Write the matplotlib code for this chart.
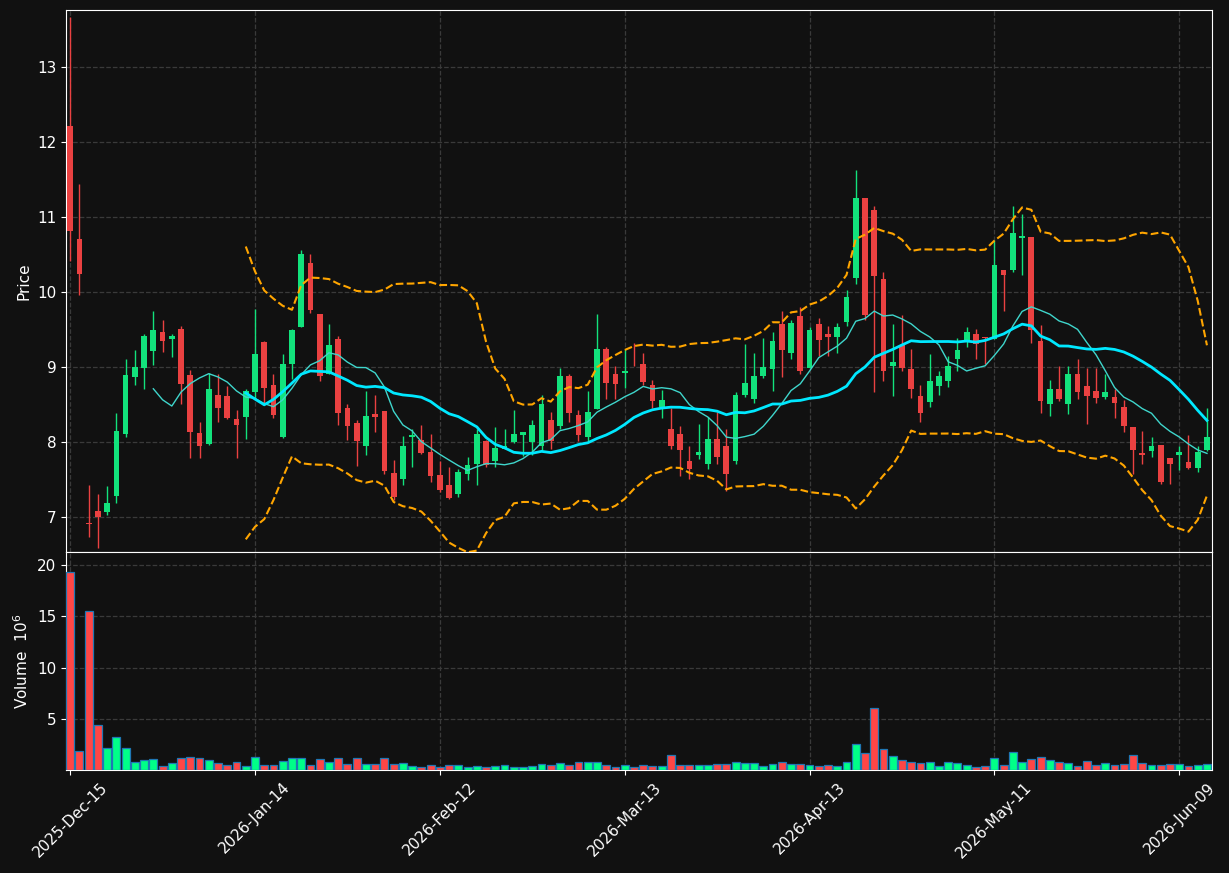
import numpy as np
import pandas as pd
import matplotlib
matplotlib.use('Agg')
import matplotlib.pyplot as plt

# OHLC values (one per trading day)
opens = [12.21, 10.71, 6.915, 7.08, 7.07, 7.28, 8.11, 8.87, 8.99, 9.21,
         9.46, 9.37, 9.51, 8.89, 8.12, 7.97, 8.63, 8.61, 8.30, 8.33,
         8.67, 9.33, 8.76, 8.06, 9.04, 9.53, 10.39, 9.71, 8.91, 9.37,
         8.45, 8.25, 7.94, 8.37, 8.41, 7.58, 7.50, 8.06, 8.03, 7.87,
         7.56, 7.42, 7.30, 7.57, 7.70, 8.01, 7.75, 7.90, 8.00, 8.09,
         8.00, 7.94, 8.29, 8.21, 8.88, 8.36, 8.06, 8.44, 9.24, 8.91,
         8.92, 9.11, 9.04, 8.76, 8.46, 8.17, 8.10, 7.74, 7.82, 7.71,
         8.04, 7.95, 7.74, 8.63, 8.57, 8.88, 8.97, 9.58, 9.19, 9.68,
         8.98, 9.57, 9.44, 9.40, 9.60, 10.19, 11.26, 11.09, 10.18, 9.01,
         9.29, 8.97, 8.61, 8.53, 8.74, 8.81, 9.11, 9.35, 9.44, 9.40,
         9.37, 10.29, 10.29, 10.72, 10.73, 9.35, 8.51, 8.71, 8.51, 8.91,
         8.75, 8.68, 8.60, 8.60, 8.47, 8.20, 7.85, 7.88, 7.96, 7.78,
         7.82, 7.73, 7.65, 7.89]
highs = [13.67, 11.44, 7.42, 7.30, 7.41, 8.39, 9.11, 9.23, 9.44, 9.75,
         9.63, 9.44, 9.55, 8.96, 8.26, 8.92, 8.91, 8.75, 8.42, 8.71,
         9.78, 9.34, 8.91, 9.17, 9.51, 10.56, 10.51, 9.71, 9.57, 9.41,
         8.50, 8.29, 8.68, 8.62, 8.41, 7.76, 8.08, 8.17, 8.22, 8.10,
         7.74, 7.67, 7.64, 7.80, 8.17, 8.02, 8.20, 8.17, 8.43, 8.13,
         8.29, 8.63, 8.40, 8.98, 8.90, 8.43, 8.68, 9.71, 9.26, 9.01,
         9.24, 9.32, 9.19, 8.83, 8.69, 8.45, 8.21, 7.95, 8.24, 8.33,
         8.40, 8.17, 8.67, 9.31, 9.19, 9.38, 9.47, 9.75, 9.63, 9.80,
         9.54, 9.65, 9.55, 9.59, 10.03, 11.63, 11.26, 11.15, 10.27, 9.58,
         9.69, 9.24, 8.76, 9.17, 8.95, 9.14, 9.39, 9.54, 9.51, 9.40,
         10.69, 10.29, 11.15, 11.04, 10.73, 9.56, 8.82, 9.01, 9.01, 9.10,
         8.99, 8.99, 8.90, 8.70, 8.56, 8.20, 8.14, 8.06, 7.96, 7.78,
         7.95, 8.09, 7.95, 8.45]
lows = [10.41, 9.96, 6.73, 6.58, 7.02, 7.19, 8.07, 8.76, 8.71, 9.02,
        9.20, 9.13, 8.51, 7.78, 7.78, 7.96, 8.26, 8.31, 7.79, 8.04,
        8.57, 8.52, 8.32, 8.05, 8.84, 9.53, 9.72, 8.81, 8.91, 8.22,
        8.03, 7.68, 7.82, 8.13, 7.57, 7.22, 7.43, 7.66, 7.84, 7.47,
        7.33, 7.24, 7.26, 7.49, 7.43, 7.67, 7.66, 7.90, 7.99, 7.81,
        7.82, 7.88, 7.91, 8.17, 8.26, 8.01, 8.01, 8.44, 8.57, 8.57,
        8.72, 9.01, 8.76, 8.45, 8.32, 7.91, 7.55, 7.50, 7.77, 7.64,
        7.71, 7.35, 7.70, 8.60, 8.52, 8.85, 8.68, 8.86, 9.10, 8.90,
        8.98, 9.14, 9.14, 9.18, 9.55, 10.11, 9.63, 8.66, 8.81, 8.61,
        8.94, 8.59, 8.26, 8.47, 8.63, 8.73, 8.95, 9.26, 9.11, 9.04,
        9.37, 9.75, 10.27, 10.23, 9.32, 8.39, 8.34, 8.54, 8.37, 8.57,
        8.24, 8.52, 8.57, 8.32, 8.13, 7.57, 7.70, 7.80, 7.44, 7.44,
        7.63, 7.64, 7.60, 7.88]
closes = [10.82, 10.24, 6.905, 7.00, 7.19, 8.14, 8.89, 9.00, 9.41, 9.50,
          9.35, 9.41, 8.77, 8.13, 7.94, 8.71, 8.45, 8.32, 8.23, 8.68,
          9.17, 8.72, 8.36, 9.04, 9.49, 10.51, 9.76, 8.88, 9.29, 8.39,
          8.21, 8.01, 8.34, 8.33, 7.61, 7.27, 7.94, 8.09, 7.85, 7.55,
          7.36, 7.25, 7.60, 7.69, 8.10, 7.69, 7.92, 7.95, 8.10, 8.13,
          8.22, 8.51, 8.01, 8.88, 8.39, 8.09, 8.40, 9.24, 8.79, 8.77,
          8.95, 9.10, 8.80, 8.54, 8.56, 7.94, 7.89, 7.64, 7.87, 8.04,
          7.80, 7.57, 8.63, 8.78, 8.88, 9.00, 9.34, 9.23, 9.59, 8.94,
          9.50, 9.36, 9.40, 9.54, 9.94, 11.26, 9.70, 10.22, 8.94, 9.07,
          8.98, 8.70, 8.39, 8.81, 8.88, 9.01, 9.22, 9.47, 9.31, 9.39,
          10.36, 10.23, 10.79, 10.75, 9.49, 8.54, 8.71, 8.57, 8.91, 8.67,
          8.61, 8.59, 8.66, 8.52, 8.21, 7.89, 7.82, 7.95, 7.46, 7.71,
          7.86, 7.65, 7.87, 8.06]
volumes = [19.35, 1.90, 15.52, 4.44, 2.16, 3.24, 2.16, 0.78, 0.98, 1.11,
           0.39, 0.72, 1.18, 1.31, 1.18, 0.98, 0.72, 0.52, 0.82, 0.39,
           1.31, 0.52, 0.52, 0.92, 1.18, 1.18, 0.52, 1.11, 0.82, 1.18,
           0.62, 1.18, 0.62, 0.62, 1.18, 0.62, 0.72, 0.39, 0.29, 0.52,
           0.33, 0.52, 0.52, 0.29, 0.39, 0.33, 0.42, 0.52, 0.29, 0.29,
           0.42, 0.62, 0.52, 0.72, 0.52, 0.82, 0.82, 0.82, 0.52, 0.33,
           0.52, 0.33, 0.52, 0.39, 0.39, 1.50, 0.52, 0.52, 0.52, 0.52,
           0.62, 0.62, 0.82, 0.72, 0.72, 0.39, 0.62, 0.82, 0.62, 0.62,
           0.52, 0.39, 0.52, 0.39, 0.82, 2.58, 1.70, 6.01, 2.09, 1.37,
           0.98, 0.82, 0.72, 0.82, 0.39, 0.82, 0.72, 0.52, 0.29, 0.39,
           1.21, 0.52, 1.80, 0.82, 1.11, 1.31, 1.01, 0.82, 0.72, 0.39,
           0.92, 0.52, 0.72, 0.52, 0.62, 1.50, 0.72, 0.52, 0.52, 0.62,
           0.62, 0.39, 0.52, 0.62]
tick_pos = [0, 20, 40, 60, 80, 100, 120]
tick_labels = ['2025-Dec-15', '2026-Jan-14', '2026-Feb-12', '2026-Mar-13',
               '2026-Apr-13', '2026-May-11', '2026-Jun-09']

df = pd.DataFrame({'Open': opens, 'High': highs, 'Low': lows,
                   'Close': closes, 'Volume': volumes})
x = np.arange(len(df))
up = df['Close'] >= df['Open']

# moving averages and bollinger bands (20, 2)
mav10 = df['Close'].rolling(10).mean()
mav20 = df['Close'].rolling(20).mean()
std20 = df['Close'].rolling(20).std(ddof=0)
bb_up = mav20 + 2 * std20
bb_lo = mav20 - 2 * std20

bg = '#111111'
c_up, c_dn = '#12e27c', '#ea4141'
v_up, v_dn = '#00ff88', '#ff4646'

fig = plt.figure(figsize=(12.29, 8.73), dpi=100, facecolor=bg)
ax = fig.add_axes([0.0537, 0.3677, 0.9325, 0.6208])
axv = fig.add_axes([0.0537, 0.118, 0.9325, 0.2497], sharex=ax)

for a in (ax, axv):
    a.set_facecolor(bg)
    for s in a.spines.values():
        s.set_color('white')
    a.tick_params(colors='white', labelsize=11)
    a.grid(True, color='#3a3a3a', linestyle='--', linewidth=0.9)
    a.set_axisbelow(True)

# candles
colors = np.where(up, c_up, c_dn)
ax.vlines(x, df['Low'], df['High'], colors=colors, linewidth=1.0, zorder=2)
body_lo = np.minimum(df['Open'], df['Close'])
body_h = np.maximum(np.abs(df['Close'] - df['Open']), 0.012)
ax.bar(x, body_h, bottom=body_lo, width=0.62, color=colors, zorder=3)

ax.plot(x, mav10, color='#3fd6cc', linewidth=1.0, zorder=4)
ax.plot(x, mav20, color='#00e8ff', linewidth=2.0, zorder=4)
ax.plot(x, bb_up, color='#ffa500', linestyle='--', linewidth=1.5, zorder=4)
ax.plot(x, bb_lo, color='#ffa500', linestyle='--', linewidth=1.5, zorder=4)

ax.set_ylim(6.533, 13.76)
ax.set_yticks([7, 8, 9, 10, 11, 12, 13])
ax.set_ylabel('Price', color='white', fontsize=11)
ax.tick_params(axis='x', labelbottom=False)

vcolors = np.where(up, v_up, v_dn)
axv.bar(x, df['Volume'], width=0.85, color=vcolors, edgecolor='#1f77b4',
        linewidth=0.9, zorder=3)
axv.set_ylim(0, 21.3)
axv.set_yticks([5, 10, 15, 20])
axv.set_ylabel('Volume  $10^6$', color='white', fontsize=11)

axv.set_xlim(-0.45, 123.55)
axv.set_xticks(tick_pos)
axv.set_xticklabels(tick_labels, rotation=45, ha='center')

fig.savefig('out.png', dpi=100, facecolor=bg)
